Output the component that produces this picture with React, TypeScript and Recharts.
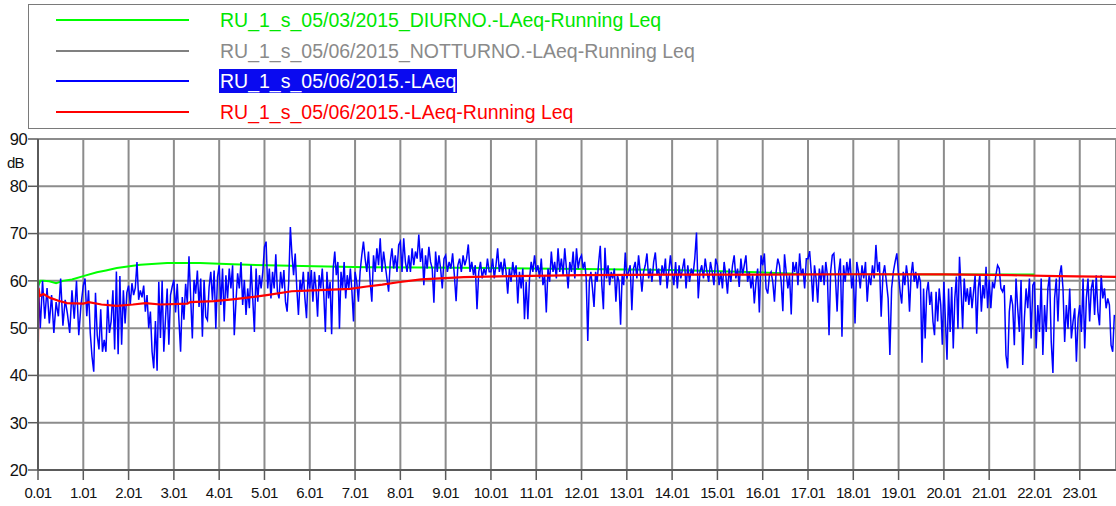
import { LineChart, Line, XAxis, YAxis, CartesianGrid } from "recharts";

const HOUR_TICKS = [0, 1, 2, 3, 4, 5, 6, 7, 8, 9, 10, 11, 12, 13, 14, 15, 16, 17, 18, 19, 20, 21, 22, 23];
const DB_TICKS = [20, 30, 40, 50, 60, 70, 80, 90];

// LAeq samples, one row per hour, spread evenly inside the hour
const laeqByHour: number[][] = [
  [61.5, 50, 60, 52, 58.5, 51, 57, 49, 55.5, 52.5, 60.5, 50.5, 56, 53, 49, 58, 52, 60, 48.5, 55],
  [59, 60.5, 52.5, 58, 49, 44, 40.8, 57.5, 48.5, 45.5, 54, 45, 47.5, 45, 56, 49, 51.5, 58, 45.5, 62, 44.5, 61, 46.5, 58, 51, 57.5],
  [59, 55, 59.5, 57, 58.5, 64, 56, 58, 56.5, 59, 53.5, 57, 50, 53.5, 45, 41.5, 51.5, 41, 59.8, 47.9, 60, 45, 52, 58.4, 46.5, 57, 58.8],
  [60.2, 53.3, 59.4, 51.8, 45, 56.6, 51.8, 59.4, 55.2, 65.2, 56.6, 47.8, 60.2, 57.3, 62.2, 54.5, 60.5, 48.2, 60.2, 52.4, 51.7, 58.7, 61.9, 55.9, 62.2, 49.9, 60.8],
  [63.3, 54.9, 62.6, 51.4, 61.2, 56.3, 62.6, 58.4, 63.3, 48.5, 55.6, 61.6, 58.4, 64, 54.9, 60.2, 52.8, 58.4, 54.2, 63.3, 56.3, 49.2, 62.6, 55.6, 61.2, 58.4, 61.9],
  [67.2, 68.3, 58.4, 62.6, 56.3, 61.9, 58.4, 65.6, 57.7, 56.3, 61.9, 58.4, 62.3, 55.6, 53.5, 59.8, 71.4, 65.4, 61.2, 65.8, 58.4, 52.8, 60.2, 57.7, 61.9, 56.3, 52.1, 61.9],
  [58.4, 62.3, 55.6, 61.9, 58.4, 52.4, 61.2, 58.4, 62.6, 57, 49.2, 61.9, 56.3, 59.8, 48.7, 62.6, 66.2, 61.2, 64, 49.9, 61.9, 58.4, 64, 56.3, 61.2, 58.4, 62.6, 57.7, 51.4],
  [61.9, 59.8, 55.6, 61.9, 65.4, 68.3, 64.7, 61.9, 66.2, 59.8, 55.6, 65.4, 61.9, 66.9, 63.3, 69, 61.9, 66.2, 63.3, 60.5, 57.7, 64, 66.9, 62.6, 65.4, 61.9, 67.6],
  [68.3, 61.9, 69, 64, 61.9, 65.4, 61.9, 66.9, 63.3, 66.2, 64.7, 69.8, 64, 66.9, 59.1, 65.4, 62.6, 67.2, 64, 62.6, 55.4, 66.2, 61.9, 65.4, 62.6, 58.4, 64.7],
  [65.4, 61.9, 64, 62.6, 65.8, 61.2, 55.7, 63.3, 64.7, 61.9, 65.4, 63.3, 64.7, 67.7, 61.9, 64, 61.2, 63.3, 54, 61.9, 64, 60.5, 62.6, 61.2, 64.7, 61.9],
  [61.9, 64.7, 60.5, 63.3, 66.9, 61.9, 64, 61.2, 64.7, 61.9, 57.3, 62.6, 59.8, 64, 61.2, 63.3, 55.2, 61.9, 58.4, 62.6, 51.9, 59.8, 51.9, 60.5, 64, 61.9, 65.4],
  [61.9, 63.3, 60.5, 64.7, 59.1, 61.2, 53.3, 62.6, 59.8, 66.2, 61.9, 64, 60.5, 66.9, 61.9, 64.7, 61.2, 66.9, 62.6, 58.4, 64, 61.9, 66.2, 60.5, 66.9, 62.6, 64.7],
  [65.4, 62.6, 64, 60.5, 47.3, 59.8, 61.9, 58.4, 54.5, 61.9, 59.8, 64, 67.4, 59.1, 54, 67, 60.5, 63.3, 59.1, 61.9, 60.5, 62.6, 55.6, 61.2, 59.8, 50.7, 61.2, 59.1, 66],
  [60.5, 61.9, 63.3, 53.8, 62.6, 64, 60.5, 65.4, 61.9, 57.7, 61.9, 63.3, 65.8, 60.5, 62.6, 59.8, 64, 66, 61.2, 62.6, 59.1, 63.3, 61.2, 64.7, 58.4, 61.9, 65.4],
  [61.9, 59.1, 64, 58.4, 63.3, 60.5, 62.6, 64.7, 58.4, 63.3, 59.8, 62.6, 61.2, 64.7, 70.2, 56.3, 61.9, 63.3, 60.5, 64.7, 61.9, 59.8, 64, 61.9, 59.1, 64.7],
  [63.3, 59.1, 61.9, 58.4, 64, 61.2, 57.3, 62.6, 59.8, 63.3, 65.4, 60.5, 62.6, 58.7, 64.7, 61.2, 63.3, 65.4, 59.8, 61.9, 58.4, 61.2, 55.2, 59.8, 62.6, 53.3, 65.4],
  [63.3, 65.8, 58.4, 57.3, 61.2, 61.9, 59.8, 55.6, 61.9, 64.7, 63.3, 59.8, 53.6, 65.6, 61.9, 58.4, 61.2, 52.9, 64, 61.9, 64, 59.1, 65.8, 61.2, 62.6, 58.4, 64.7],
  [64.7, 66.3, 61.9, 55.6, 63.3, 60.5, 55.4, 62.6, 59.8, 63.3, 59.1, 64, 61.2, 48.5, 61.9, 65.4, 65.8, 60.5, 53.5, 61.9, 64.7, 48.2, 63.3, 59.8, 64, 61.2, 64.7, 58.4],
  [61.2, 51, 64, 61.9, 58.4, 63.3, 60.5, 64, 55.6, 61.2, 59.1, 63.3, 60.5, 67.6, 61.9, 64, 52.4, 61.2, 63.3, 59.8, 56.3, 44.3, 58.4, 61.9, 64, 65.8],
  [61.2, 57.7, 55.2, 61.9, 59.1, 63.3, 60.5, 53.5, 61.2, 64, 59.8, 61.9, 58.4, 61.2, 59.8, 42.7, 58.4, 47.8, 57.7, 59.8, 54.9, 57.7, 51.4, 48.5, 57.7, 51.4, 58.4, 54.9, 46.5],
  [59.8, 51.4, 43.3, 58.4, 49.2, 58.7, 45.7, 56.3, 60.9, 49.9, 65.1, 58.4, 49.9, 60.5, 55.6, 58.4, 54.9, 58.7, 54.2, 57.7, 61.2, 48.8, 58.4, 61.2, 53.5, 59.1, 56.3, 63, 54.2],
  [60.2, 54.2, 59.8, 58.4, 61.2, 63.3, 62.6, 58.4, 57.7, 59.1, 44.3, 41.5, 53.5, 57, 54.9, 46.4, 60.5, 54.2, 49.2, 60.2, 42.2, 52.1, 58.4, 54.2, 60.5, 47.8, 59.1],
  [59.8, 45.7, 54.9, 49.2, 60.5, 44.3, 54.9, 49.2, 58.4, 61.2, 47.1, 40.5, 56.3, 60.5, 51.4, 61.2, 63.3, 58.4, 47.1, 54.9, 49.9, 58.4, 47.8, 51.4, 54.2, 42.9, 52.1],
  [54.9, 49.2, 60.5, 45.7, 56.3, 60.5, 51.4, 58.4, 60.2, 52.8, 61.2, 53.5, 50.6, 61.2, 56.3, 58.4, 54.2, 56.3, 54.9, 46.4, 45, 52.8],
];

// running Leq curves: [hour, dB]
const diurnoRunning: [number, number][] = [
  [0, 58.8], [0.05, 60], [0.12, 60], [0.25, 59.9], [0.4, 59.5], [0.55, 60], [0.75, 60.3], [1.0, 61],
  [1.3, 61.8], [1.5, 62.2], [1.74, 62.7], [2.26, 63.4], [2.85, 63.8], [3.58, 63.8], [4.3, 63.5],
  [5.05, 63.3], [6.1, 63.1], [7.26, 62.9], [8.5, 62.8], [10, 62.7], [12, 62.5], [14, 62.3],
  [15.9, 61.8], [17, 61.4], [22, 61.35],
];
const notturnoRunning: [number, number][] = [[22, 58.2], [22.6, 58.1], [23.8, 58.1]];
const leqRunning: [number, number][] = [
  [0, 47], [0.01, 58.5], [0.04, 56.8], [0.12, 57.2], [0.27, 56.4], [0.45, 55.8], [0.64, 55.3],
  [1.0, 55.2], [1.12, 55.5], [1.4, 55], [1.74, 54.7], [2.1, 55], [2.37, 55.3], [2.7, 55],
  [3.3, 55.2], [3.36, 55.5], [3.88, 55.7], [4.3, 56.1], [4.76, 56.6], [5.05, 57], [5.6, 57.8],
  [6.08, 58], [6.89, 58.3], [7.26, 58.8], [7.6, 59.2], [7.95, 59.7], [8.46, 60.3], [9.4, 60.8],
  [10.5, 61], [12, 61.2], [14, 61.3], [16, 61.3], [18, 61.4], [20, 61.35], [21.5, 61.2],
  [22.5, 61], [23.8, 60.85],
];

const toPoints = (pairs: [number, number][]) => pairs.map(([t, v]) => ({ t, v }));

const laeqPoints = laeqByHour.flatMap((vals, h) =>
  vals.map((v, i) => ({ t: h + i / (h === 23 ? 27.5 : vals.length), v }))
);

const SERIES = [
  { name: "RU_1_s_05/03/2015_DIURNO.-LAeq-Running Leq", color: "#00ff00", text: "#00e600" },
  { name: "RU_1_s_05/06/2015_NOTTURNO.-LAeq-Running Leq", color: "#808080", text: "#8a8a8a" },
  { name: "RU_1_s_05/06/2015.-LAeq", color: "#0000ff", text: "#ffffff", selected: true },
  { name: "RU_1_s_05/06/2015.-LAeq-Running Leq", color: "#ff0000", text: "#ff0000" },
];

const FONT = "'Liberation Sans', Arial, sans-serif";

function LegendBox() {
  return (
    <div
      style={{
        position: "absolute",
        left: 28,
        top: 4,
        width: 1120,
        height: 123,
        border: "1.5px solid #7a7a7a",
        fontFamily: FONT,
        fontSize: 19.5,
        background: "#fff",
      }}
    >
      {SERIES.map((s, i) => (
        <div key={s.name} style={{ position: "absolute", top: 3 + i * 30.7, left: 0, height: 26 }}>
          <div
            style={{
              position: "absolute",
              left: 27,
              top: 11,
              width: 133,
              height: 2,
              background: s.color,
            }}
          />
          <span
            style={{
              position: "absolute",
              left: 190,
              top: 0,
              whiteSpace: "nowrap",
              color: s.text,
              lineHeight: "24px",
              background: s.selected ? "#0a0af0" : "transparent",
              padding: "0 1px",
            }}
          >
            {s.name}
          </span>
        </div>
      ))}
    </div>
  );
}

export default function App() {
  return (
    <div
      style={{
        position: "absolute",
        left: 0,
        top: 0,
        width: 1116,
        height: 506,
        overflow: "hidden",
        background: "#fff",
        fontFamily: FONT,
      }}
    >
      <LineChart width={1116} height={506} margin={{ top: 139, right: 0, left: 0, bottom: 0 }}>
        <CartesianGrid stroke="#8c8c8c" strokeWidth={2} />
        <XAxis
          type="number"
          dataKey="t"
          domain={[0, 23.8]}
          ticks={HOUR_TICKS}
          tickFormatter={(h) => `${h}.01`}
          height={36}
          allowDataOverflow
          interval={0}
          tickSize={10}
          tickMargin={7}
          stroke="#5a5a5a"
          axisLine={{ stroke: "#5a5a5a", strokeWidth: 2 }}
          tickLine={{ stroke: "#5a5a5a", strokeWidth: 1.5 }}
          tick={{ fill: "#111", fontSize: 15, letterSpacing: -0.6, fontFamily: FONT }}
        />
        <YAxis
          type="number"
          domain={[20, 90]}
          ticks={DB_TICKS}
          width={38}
          interval={0}
          tickSize={10}
          tickMargin={1}
          allowDataOverflow
          axisLine={{ stroke: "#5a5a5a", strokeWidth: 2 }}
          tickLine={{ stroke: "#5a5a5a", strokeWidth: 1.5 }}
          tick={{ fill: "#111", fontSize: 16.5, letterSpacing: -0.6, fontFamily: FONT }}
          label={({ viewBox }: any) => (
            <text x={viewBox.x + 7} y={viewBox.y + 29} fontSize={15} fill="#111" fontFamily={FONT} letterSpacing={-0.8}>
              dB
            </text>
          )}
        />
        <Line
          data={toPoints(diurnoRunning)}
          dataKey="v"
          stroke="#00ff00"
          strokeWidth={2}
          dot={false}
          isAnimationActive={false}
        />
        <Line
          data={toPoints(notturnoRunning)}
          dataKey="v"
          stroke="#808080"
          strokeWidth={1.5}
          dot={false}
          isAnimationActive={false}
        />
        <Line
          data={laeqPoints}
          dataKey="v"
          stroke="#0000ff"
          strokeWidth={1.5}
          dot={false}
          isAnimationActive={false}
        />
        <Line
          data={toPoints(leqRunning)}
          dataKey="v"
          stroke="#ff0000"
          strokeWidth={2.2}
          dot={false}
          isAnimationActive={false}
        />
      </LineChart>
      <LegendBox />
    </div>
  );
}
